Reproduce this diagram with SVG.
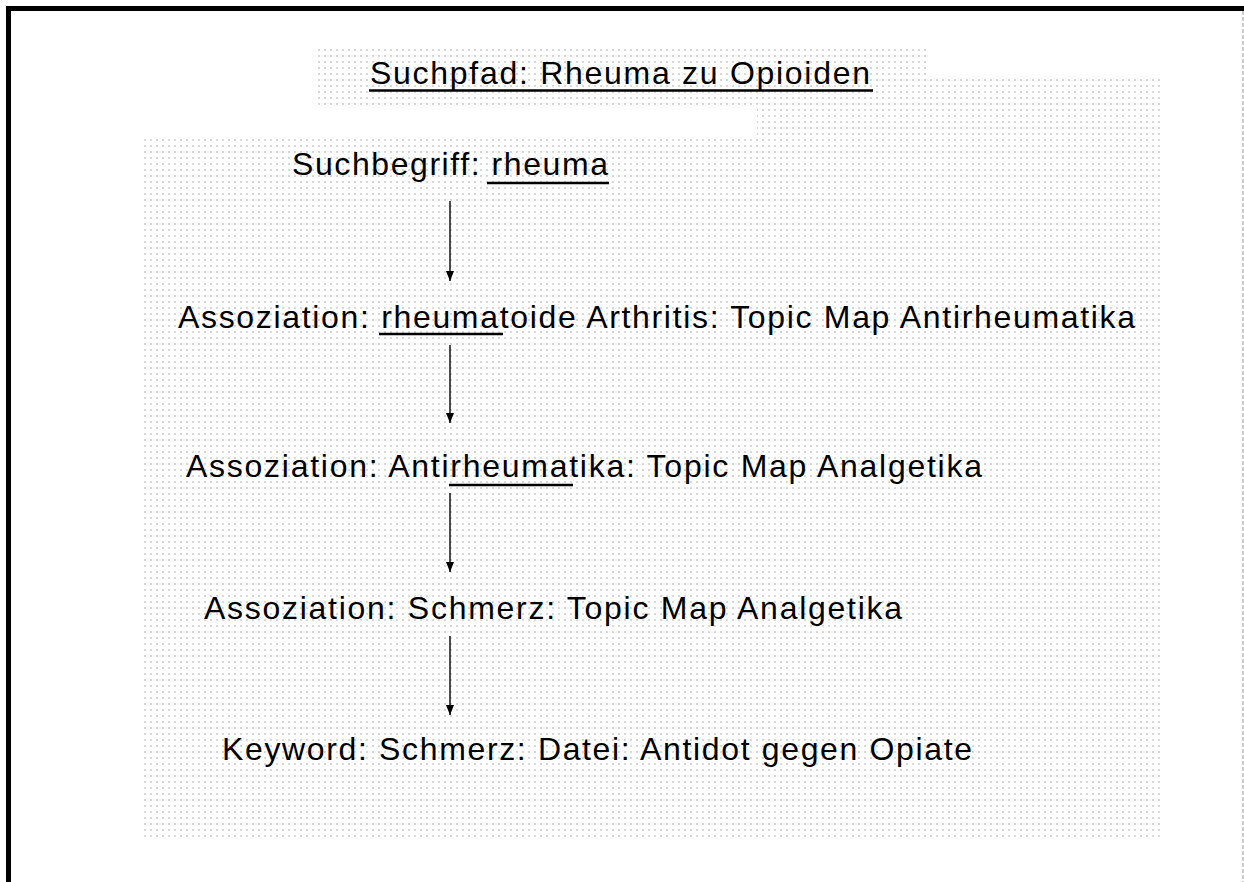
<svg xmlns="http://www.w3.org/2000/svg" width="1244" height="882" viewBox="0 0 1244 882">
  <defs>
    <pattern id="dots" x="0" y="0" width="6" height="6" patternUnits="userSpaceOnUse">
      <rect x="0" y="1" width="2" height="2" fill="#d9d9d9"/>
    </pattern>
    <marker id="arrow" viewBox="0 0 10 8" refX="10" refY="4" markerWidth="10" markerHeight="8" markerUnits="userSpaceOnUse" orient="auto">
      <path d="M0,0 L10,4 L0,8 Z" fill="#000"/>
    </marker>
  </defs>
  <style>
    .t { font-family: "Liberation Sans", Arial, sans-serif; font-size: 32px; fill: #000; }
    .ul { stroke: #000; stroke-width: 2.5; }
    .conn { stroke: #000; stroke-width: 1.4; fill: none; }
  </style>
  <rect width="1244" height="882" fill="#fff"/>
  <!-- dotted backgrounds -->
  <rect x="315" y="48" width="611" height="58" fill="url(#dots)"/>
  <rect x="757" y="78" width="404" height="762" fill="url(#dots)"/>
  <rect x="144" y="136" width="1017" height="704" fill="url(#dots)"/>
  <!-- frame -->
  <path d="M8.5,882 V8.5 H1244" fill="none" stroke="#000" stroke-width="5"/>
  <line x1="1243" y1="11" x2="1243" y2="882" stroke="#999" stroke-width="1" stroke-dasharray="4,2"/>

  <g id="title">
    <text class="t" x="370" y="84" textLength="500" lengthAdjust="spacing">Suchpfad: Rheuma zu Opioiden</text>
    <line class="ul" x1="369" y1="90.5" x2="873" y2="90.5"/>
  </g>
  <g id="n1">
    <text class="t" x="292" y="175" textLength="316" lengthAdjust="spacing">Suchbegriff: rheuma</text>
    <line class="ul" x1="487" y1="183" x2="609" y2="183"/>
  </g>
  <g id="n2">
    <text class="t" x="178" y="328" textLength="957" lengthAdjust="spacing">Assoziation: rheumatoide Arthritis: Topic Map Antirheumatika</text>
    <line class="ul" x1="379" y1="334" x2="503" y2="334"/>
  </g>
  <g id="n3">
    <text class="t" x="186" y="477" textLength="796" lengthAdjust="spacing">Assoziation: Antirheumatika: Topic Map Analgetika</text>
    <line class="ul" x1="449" y1="485" x2="573" y2="485"/>
  </g>
  <g id="n4">
    <text class="t" x="204" y="619" textLength="698" lengthAdjust="spacing">Assoziation: Schmerz: Topic Map Analgetika</text>
  </g>
  <g id="n5">
    <text class="t" x="222" y="760" textLength="750" lengthAdjust="spacing">Keyword: Schmerz: Datei: Antidot gegen Opiate</text>
  </g>
  <g id="connectors">
    <line class="conn" x1="450" y1="201" x2="450" y2="281" marker-end="url(#arrow)"/>
    <line class="conn" x1="450" y1="345" x2="450" y2="423" marker-end="url(#arrow)"/>
    <line class="conn" x1="450" y1="493" x2="450" y2="572" marker-end="url(#arrow)"/>
    <line class="conn" x1="450" y1="636" x2="450" y2="715" marker-end="url(#arrow)"/>
  </g>
</svg>
